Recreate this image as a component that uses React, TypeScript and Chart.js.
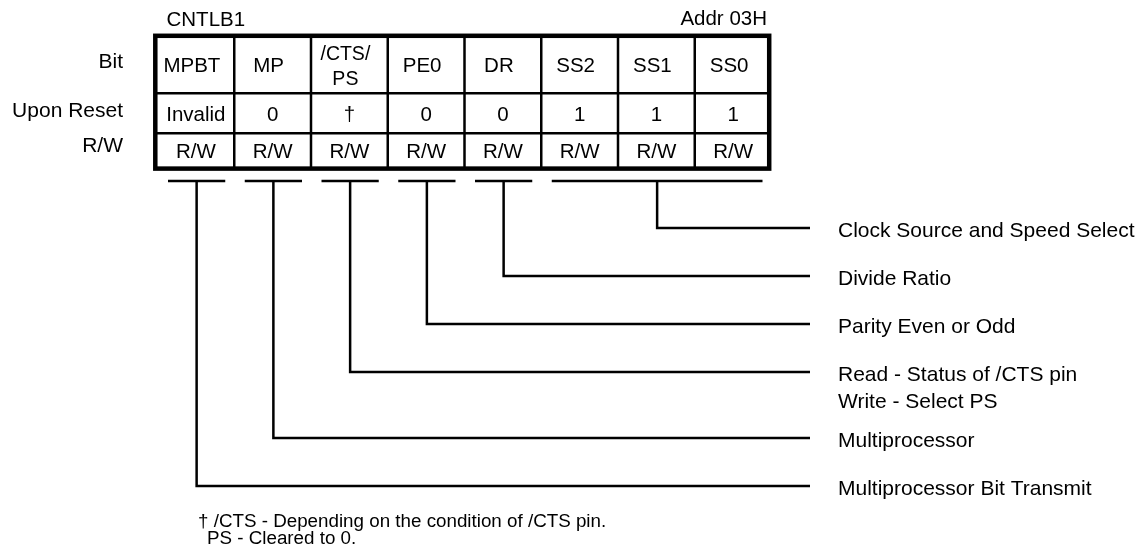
import React, { useEffect, useRef } from 'react';
import { Chart, registerables } from 'chart.js';

Chart.register(...registerables);

// ---------- data ----------
const registerName = 'CNTLB1';
const registerAddress = 'Addr 03H';
const rowLabels = ['Bit', 'Upon Reset', 'R/W'];
const bitNames = ['MPBT', 'MP', '/CTS/\nPS', 'PE0', 'DR', 'SS2', 'SS1', 'SS0'];
const resetValues = ['Invalid', '0', '†', '0', '0', '1', '1', '1'];
const accessValues = ['R/W', 'R/W', 'R/W', 'R/W', 'R/W', 'R/W', 'R/W', 'R/W'];
const fieldFirstBit = [0, 1, 2, 3, 4, 5];
const fieldLastBit = [0, 1, 2, 3, 4, 7];
const fieldDescriptions = [
  'Multiprocessor Bit Transmit',
  'Multiprocessor',
  'Read - Status of /CTS pin\nWrite - Select PS',
  'Parity Even or Odd',
  'Divide Ratio',
  'Clock Source and Speed Select',
];
const footnoteLines = ['† /CTS - Depending on the condition of /CTS pin.', 'PS - Cleared to 0.'];

// ---------- layout ----------
const W = 1146;
const H = 552;
const FONT = '"Liberation Sans", Arial, Helvetica, sans-serif';
const COL_LEFT = 157.5;
const COL_W = 76.75;
const ROW_EDGES = [35.8, 93.3, 133.3, 168.6];
const BORDER_LEFT = 155.3;
const BORDER_RIGHT = 769.2;
const BRACKET_Y = 181;
const BRACKET_PAD_L = 10.5;
const BRACKET_PAD_R = 9;
const LINE_END_X = 810;
const DESC_X = 838;
const FIRST_LINE_Y = 228;
const LINE_STEP = 48;
const EXTRA_PER_LINE = 18;

const colEdge = (i: number) => COL_LEFT + i * COL_W;
const colCenter = (i: number) => COL_LEFT + (i + 0.5) * COL_W;

// connector heights, from the top one (last field) downward
const connectorY: number[] = new Array(fieldDescriptions.length);
{
  let y = FIRST_LINE_Y;
  for (let k = fieldDescriptions.length - 1; k >= 0; k--) {
    connectorY[k] = y;
    const lines = fieldDescriptions[k].split('\n').length;
    y += LINE_STEP + (lines - 1) * EXTRA_PER_LINE;
  }
}

const buildDatasets = () => {
  const ds: any[] = [];
  fieldDescriptions.forEach((_, i) => {
    const x1 = colEdge(fieldFirstBit[i]) + BRACKET_PAD_L;
    const x2 = colEdge(fieldLastBit[i] + 1) - BRACKET_PAD_R;
    const vx = (x1 + x2) / 2;
    ds.push({
      label: 'bracket' + i,
      data: [
        { x: x1, y: BRACKET_Y },
        { x: x2, y: BRACKET_Y },
      ],
      showLine: true,
      borderColor: '#000',
      borderWidth: 2.5,
      pointRadius: 0,
      borderCapStyle: 'butt',
    });
    ds.push({
      label: 'connector' + i,
      data: [
        { x: vx, y: BRACKET_Y },
        { x: vx, y: connectorY[i] },
        { x: LINE_END_X, y: connectorY[i] },
      ],
      showLine: true,
      borderColor: '#000',
      borderWidth: 2.5,
      pointRadius: 0,
      borderCapStyle: 'butt',
      borderJoinStyle: 'miter',
    });
  });
  return ds;
};

const diagramPlugin = {
  id: 'registerDiagram',
  afterDatasetsDraw(chart: any) {
    const ctx: CanvasRenderingContext2D = chart.ctx;
    const xs = chart.scales.x;
    const ys = chart.scales.y;
    const X = (v: number) => xs.getPixelForValue(v);
    const Y = (v: number) => ys.getPixelForValue(v);
    ctx.save();
    ctx.strokeStyle = '#000';
    ctx.fillStyle = '#000';

    // inner grid
    ctx.lineWidth = 2.5;
    ctx.beginPath();
    for (let i = 1; i < bitNames.length; i++) {
      ctx.moveTo(X(colEdge(i)), Y(ROW_EDGES[0]));
      ctx.lineTo(X(colEdge(i)), Y(ROW_EDGES[3]));
    }
    for (let r = 1; r < 3; r++) {
      ctx.moveTo(X(BORDER_LEFT), Y(ROW_EDGES[r]));
      ctx.lineTo(X(BORDER_RIGHT), Y(ROW_EDGES[r]));
    }
    ctx.stroke();

    // outer border
    ctx.lineWidth = 4.5;
    ctx.strokeRect(
      X(BORDER_LEFT),
      Y(ROW_EDGES[0]),
      X(BORDER_RIGHT) - X(BORDER_LEFT),
      Y(ROW_EDGES[3]) - Y(ROW_EDGES[0])
    );

    ctx.textBaseline = 'alphabetic';

    // title texts
    ctx.font = `20.5px ${FONT}`;
    ctx.textAlign = 'left';
    ctx.fillText(registerName, X(166.5), Y(25.5));
    ctx.textAlign = 'right';
    ctx.fillText(registerAddress, X(767), Y(24.5));

    // row labels
    ctx.font = `21px ${FONT}`;
    ctx.textAlign = 'right';
    const labelBaselines = [68, 116.5, 151.5];
    rowLabels.forEach((t, i) => ctx.fillText(t, X(123), Y(labelBaselines[i])));

    // bit names
    ctx.textAlign = 'center';
    bitNames.forEach((t, i) => {
      const lines = t.split('\n');
      const cx = X(colCenter(i) - 4);
      if (lines.length === 1) {
        ctx.font = `20.5px ${FONT}`;
        ctx.fillText(t, cx, Y(72));
      } else {
        ctx.font = `19.5px ${FONT}`;
        ctx.fillText(lines[0], cx, Y(60));
        ctx.fillText(lines[1], cx, Y(84.5));
      }
    });

    // reset values & access
    ctx.font = `20.5px ${FONT}`;
    resetValues.forEach((t, i) => ctx.fillText(t, X(colCenter(i)), Y(120.5)));
    accessValues.forEach((t, i) => ctx.fillText(t, X(colCenter(i)), Y(158)));

    // descriptions
    ctx.font = `21px ${FONT}`;
    ctx.textAlign = 'left';
    fieldDescriptions.forEach((t, i) => {
      t.split('\n').forEach((line, j) => {
        ctx.fillText(line, X(DESC_X), Y(connectorY[i] + 8.5 + j * 27.5));
      });
    });

    // footnote
    ctx.font = `18.8px ${FONT}`;
    ctx.fillText(footnoteLines[0], X(198), Y(526.5));
    ctx.fillText(footnoteLines[1], X(207), Y(543.5));

    ctx.restore();
  },
};

export default function App() {
  const canvasRef = useRef<HTMLCanvasElement | null>(null);

  useEffect(() => {
    if (!canvasRef.current) return;
    const chart = new Chart(canvasRef.current, {
      type: 'scatter',
      data: { datasets: buildDatasets() },
      options: {
        animation: false,
        responsive: false,
        devicePixelRatio: 1,
        layout: { padding: 0 },
        scales: {
          x: { type: 'linear', min: 0, max: W, display: false },
          y: { type: 'linear', min: 0, max: H, reverse: true, display: false },
        },
        plugins: {
          legend: { display: false },
          tooltip: { enabled: false },
        },
        events: [],
      },
      plugins: [diagramPlugin],
    } as any);
    return () => chart.destroy();
  }, []);

  return (
    <div style={{ position: 'absolute', left: 0, top: 0, width: W, height: H, background: '#fff' }}>
      <canvas ref={canvasRef} width={W} height={H} style={{ width: W, height: H, display: 'block' }} />
    </div>
  );
}
